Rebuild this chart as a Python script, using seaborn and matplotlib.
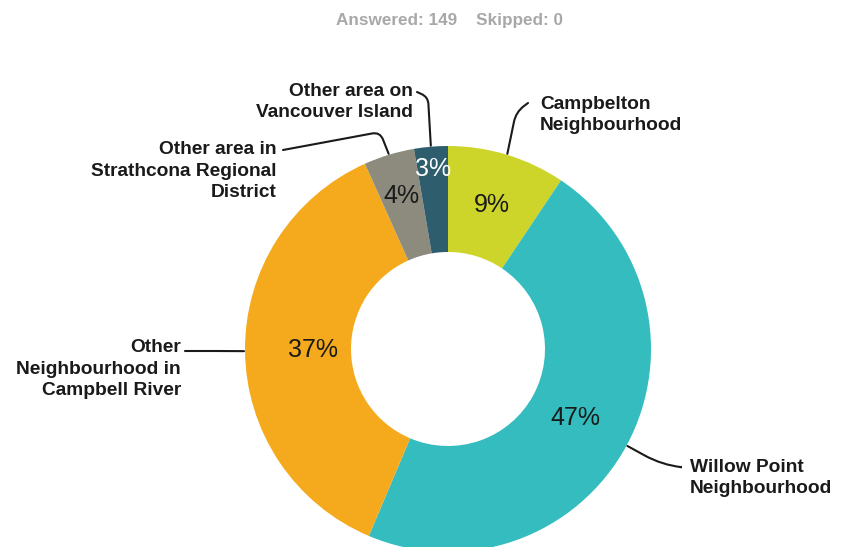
import numpy as np
import matplotlib
matplotlib.use("Agg")
import matplotlib.pyplot as plt
from matplotlib.path import Path
from matplotlib.patches import PathPatch
import seaborn as sns

# ---- data ----
categories = ["Campbelton\nNeighbourhood", "Willow Point\nNeighbourhood",
              "Other\nNeighbourhood in\nCampbell River",
              "Other area in\nStrathcona Regional\nDistrict",
              "Other area on\nVancouver Island"]
counts = [14, 70, 55, 6, 4]
pct_labels = ["9%", "47%", "37%", "4%", "3%"]
answered = 149
skipped = 0
colors = ["#CDD52B", "#34BCBE", "#F5AA1E", "#8D8B7D", "#2E5E6E"]

sns.set_theme(style="white")
plt.rcParams['font.family'] = ['Liberation Sans', 'DejaVu Sans']

W, H = 850, 547
fig = plt.figure(figsize=(W / 100, H / 100), dpi=100)
ax = fig.add_axes([0, 0, 1, 1])

cx, cy = 448, H - 349
R, r_in = 203, 97

ax.pie(counts, colors=colors, startangle=90, counterclock=False,
       center=(cx, cy), radius=R,
       wedgeprops=dict(width=R - r_in, edgecolor='none', linewidth=0))
ax.set_xlim(0, W)
ax.set_ylim(0, H)
ax.set_aspect('equal')
ax.axis('off')

# angles (clockwise from top) of slice midpoints
total = sum(counts)
cum = np.cumsum([0] + counts)
mids = [(cum[i] + counts[i] / 2) / total * 360 for i in range(len(counts))]

# percent labels
pct_r = [150, 145, 135, 160, 181]
pct_col = ["#1a1a1a", "#1a1a1a", "#1a1a1a", "#1a1a1a", "white"]
for m, lab, pr, pc in zip(mids, pct_labels, pct_r, pct_col):
    a = np.deg2rad(m)
    ax.text(cx + pr * np.sin(a), cy + pr * np.cos(a), lab, ha='center', va='center',
            fontsize=18, color=pc)


def leader(p0, corner, p2, rr):
    p0, c, p2 = np.array(p0, float), np.array(corner, float), np.array(p2, float)
    d1 = (p0 - c) / max(np.linalg.norm(p0 - c), 1e-9)
    d2 = (p2 - c) / max(np.linalg.norm(p2 - c), 1e-9)
    a1 = c + d1 * rr
    a2 = c + d2 * rr
    verts = [p0, a1, c, a2, p2]
    codes = [Path.MOVETO, Path.LINETO, Path.CURVE3, Path.CURVE3, Path.LINETO]
    ax.add_patch(PathPatch(Path(verts, codes), fill=False, lw=1.5,
                           edgecolor='#1a1a1a', capstyle='round'))


# outer labels and leader lines
label_pos = [(540, 115, 'left'), (690, 478, 'left'), (181, 369, 'right'),
             (277, 171, 'right'), (413, 102, 'right')]
corners = [(516, 112), (662, 465), (215, 351), (380, 132), (428, 97)]
line_end = [(528, 103), (680, 467), (185, 351), (283, 150), (417, 92)]
round_r = [10, 20, 0, 8, 7]
for m, lab, (tx, ty, ha), (kx, ky), (ex, ey), rr in zip(mids, categories, label_pos,
                                                       corners, line_end, round_r):
    a = np.deg2rad(m)
    sx, sy = cx + (R + 1) * np.sin(a), cy + (R + 1) * np.cos(a)
    ax.text(tx, H - ty, lab, ha=ha, va='center', fontsize=13.8, fontweight='bold',
            color='#1a1a1a', linespacing=1.38, multialignment=ha)
    leader((sx, sy), (kx, H - ky), (ex, H - ey), rr)

ax.text(cx + 2, H - 21, f"Answered: {answered}    Skipped: {skipped}", ha='center', va='center',
        fontsize=12.3, fontweight='bold', color='#A8A8A8')

fig.savefig("out.png", dpi=100)
